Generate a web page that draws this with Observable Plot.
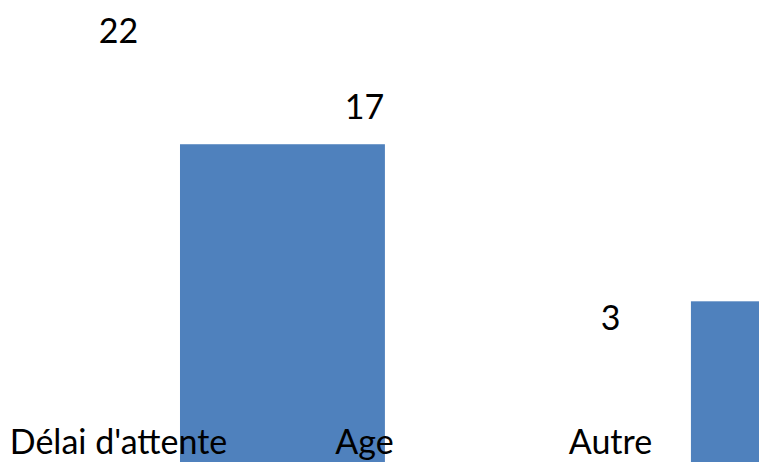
<!DOCTYPE html>
<html>
<head>
<meta charset="utf-8">
<script src="https://cdn.jsdelivr.net/npm/d3@7"></script>
<script src="https://cdn.jsdelivr.net/npm/@observablehq/plot@0.6"></script>
<style>
  html, body { margin: 0; padding: 0; background: #fff; overflow: hidden; }
</style>
</head>
<body>
<div id="chart"></div>
<script>
// Categories and their value labels (index positions along x)
const categories = ["Délai d'attente", "Age", "Autre"];
const values = [22, 17, 3];

// Visible bars (cropped view): start/end in category-index units and their heights
const barStart = [0.252, 2.329];
const barEnd = [1.085, 3.165];
const barValue = [17, 6.6];

const labels = categories.map((c, i) => ({ i, c, v: values[i] }));
const bars = barValue.map((v, k) => ({ x1: barStart[k], x2: barEnd[k], v }));

const W = 759, H = 462;
const chart = Plot.plot({
  width: W,
  height: H,
  margin: 0,
  x: { domain: [-118 / 246, (W - 118) / 246], axis: null },
  y: { domain: [-4.04, 26.55], axis: null },
  style: { fontFamily: "Lato, 'Open Sans', sans-serif", fontSize: "34px", color: "#000", background: "#fff" },
  marks: [
    Plot.rectY(bars, { x1: "x1", x2: "x2", y1: -6, y2: "v", fill: "#4F81BD", clip: true }),
    Plot.text(labels, { x: "i", y: "v", text: d => String(d.v), lineAnchor: "bottom", dy: -26, fill: "#000" }),
    Plot.text(labels, { x: "i", frameAnchor: "bottom", text: "c", lineAnchor: "bottom", dy: -9, fill: "#000" })
  ]
});
document.getElementById("chart").appendChild(chart);
</script>
</body>
</html>
